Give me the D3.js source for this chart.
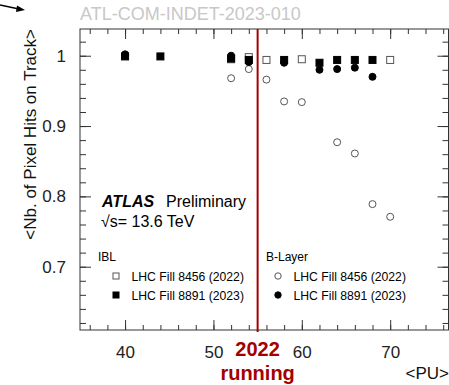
<!DOCTYPE html>
<html lang="en">
    <head>
        <meta charset="utf-8">
        <title>Pixel hits vs PU</title>
        <script type="text/javascript" src="https://cdn.jsdelivr.net/npm/d3@7/dist/d3.min.js"></script>
        <style type="text/css">
            body { margin: 0; background: #fff; }
            text { font-family: "Liberation Sans", Arial, Helvetica, sans-serif; }
        </style>
    </head>
    <body>
        <script type="text/javascript">
        // data
        var iblPu2022   = [52, 54, 56, 60, 70];
        var iblHits2022 = [0.995, 0.998, 0.994, 0.995, 0.994];
        var iblPu2023   = [40, 44, 52, 54, 58, 62, 64, 66, 68];
        var iblHits2023 = [0.999, 0.999, 0.996, 0.994, 0.994, 0.990, 0.994, 0.994, 0.994];
        var blPu2022    = [52, 54, 56, 58, 60, 64, 66, 68, 70];
        var blHits2022  = [0.968, 0.981, 0.966, 0.935, 0.934, 0.877, 0.861, 0.789, 0.771];
        var blPu2023    = [40, 52, 54, 58, 62, 64, 66, 68];
        var blHits2023  = [1.002, 1.000, 0.991, 0.990, 0.980, 0.981, 0.983, 0.970];
        var xTicks = [40, 50, 60, 70];
        var yTicks = [0.7, 0.8, 0.9, 1];
        var puLine = 55;

        var w = 449;
        var h = 385;
        var padL = 80, padR = 448.5, padT = 29, padB = 330;

        var svg = d3.select("body")
                    .append("svg")
                    .attr("width", w)
                    .attr("height", h);

        var x = d3.scaleLinear().domain([34.9, 76.6]).range([padL, padR]);
        var y = d3.scaleLinear().domain([0.61, 1.038]).range([padB, padT]);

        var xMinor = d3.range(36, 77, 2);
        var yMinor = d3.range(62, 104, 2).map(function(d) { return d / 100; });

        function styleAxis(g) {
            g.select(".domain").remove();
            g.selectAll("line").attr("stroke", "#333").attr("stroke-width", 1);
            g.selectAll("text")
                .attr("font-family", "Liberation Sans, Arial, sans-serif")
                .attr("font-size", "17px")
                .attr("fill", "#222");
        }

        // bottom
        svg.append("g").attr("transform", "translate(0," + padB + ")")
            .call(d3.axisBottom(x).tickValues(xMinor).tickSize(-5).tickFormat(""))
            .call(styleAxis);
        svg.append("g").attr("transform", "translate(0," + padB + ")")
            .call(d3.axisBottom(x).tickValues(xTicks).tickSize(-10).tickPadding(16).tickFormat(d3.format("d")))
            .call(styleAxis);
        // top
        svg.append("g").attr("transform", "translate(0," + padT + ")")
            .call(d3.axisTop(x).tickValues(xMinor).tickSize(-5).tickFormat(""))
            .call(styleAxis);
        svg.append("g").attr("transform", "translate(0," + padT + ")")
            .call(d3.axisTop(x).tickValues(xTicks).tickSize(-10).tickFormat(""))
            .call(styleAxis);
        // left
        svg.append("g").attr("transform", "translate(" + padL + ",0)")
            .call(d3.axisLeft(y).tickValues(yMinor).tickSize(-6).tickFormat(""))
            .call(styleAxis);
        svg.append("g").attr("transform", "translate(" + padL + ",0)")
            .call(d3.axisLeft(y).tickValues(yTicks).tickSize(-11).tickPadding(14).tickFormat(function(d) { return d === 1 ? "1" : d3.format(".1f")(d); }))
            .call(styleAxis);
        // right
        svg.append("g").attr("transform", "translate(" + padR + ",0)")
            .call(d3.axisRight(y).tickValues(yMinor).tickSize(-6).tickFormat(""))
            .call(styleAxis);
        svg.append("g").attr("transform", "translate(" + padR + ",0)")
            .call(d3.axisRight(y).tickValues(yTicks).tickSize(-11).tickFormat(""))
            .call(styleAxis);

        svg.append("rect")
            .attr("x", padL).attr("y", padT)
            .attr("width", padR - padL).attr("height", padB - padT)
            .attr("fill", "none").attr("stroke", "#333").attr("stroke-width", 1);

        // markers
        var ms = 7;
        function squares(xs, ys, filled) {
            svg.append("g").selectAll("rect")
                .data(xs)
                .enter()
                .append("rect")
                .attr("x", function(d) { return x(d) - ms / 2; })
                .attr("y", function(d, i) { return y(ys[i]) - ms / 2; })
                .attr("width", ms).attr("height", ms)
                .attr("fill", filled ? "#000" : "#fff")
                .attr("stroke", filled ? "#000" : "#555")
                .attr("stroke-width", 1);
        }
        function circles(xs, ys, filled) {
            svg.append("g").selectAll("circle")
                .data(xs)
                .enter()
                .append("circle")
                .attr("cx", function(d) { return x(d); })
                .attr("cy", function(d, i) { return y(ys[i]); })
                .attr("r", ms / 2)
                .attr("fill", filled ? "#000" : "#fff")
                .attr("stroke", filled ? "#000" : "#555")
                .attr("stroke-width", 1);
        }
        circles(blPu2022, blHits2022, false);
        squares(iblPu2022, iblHits2022, false);
        circles(blPu2023, blHits2023, true);
        squares(iblPu2023, iblHits2023, true);

        // 2022 running line
        svg.append("line")
            .attr("x1", x(puLine)).attr("x2", x(puLine))
            .attr("y1", padT).attr("y2", padB + 2)
            .attr("stroke", "#a50000").attr("stroke-width", 2);
        svg.append("text").text("2022")
            .attr("x", x(puLine)).attr("y", 356)
            .attr("text-anchor", "middle")
            .attr("font-size", "20px").attr("font-weight", "bold")
            .attr("fill", "#a50000");
        svg.append("text").text("running")
            .attr("x", x(puLine)).attr("y", 380)
            .attr("text-anchor", "middle")
            .attr("font-size", "20px").attr("font-weight", "bold")
            .attr("fill", "#a50000");

        // axis titles
        svg.append("text").text("<PU>")
            .attr("x", 449).attr("y", 379)
            .attr("text-anchor", "end")
            .attr("font-size", "17px").attr("fill", "#111");
        svg.append("text").text("<Nb. of Pixel Hits on Track>")
            .attr("transform", "translate(36," + padT + ") rotate(-90)")
            .attr("text-anchor", "end")
            .attr("font-size", "17px").attr("fill", "#111");

        // watermark and stray arrow
        svg.append("text").text("ATL-COM-INDET-2023-010")
            .attr("x", 80).attr("y", 20)
            .attr("font-size", "18px").attr("fill", "#c8c8c8");
        svg.append("line")
            .attr("x1", 0).attr("y1", 5).attr("x2", 19).attr("y2", 9)
            .attr("stroke", "#000").attr("stroke-width", 1.5);
        svg.append("path")
            .attr("d", "M25,10 L17,5.5 L16,12 Z")
            .attr("fill", "#000");

        // ATLAS label
        var lab = svg.append("text").attr("x", 102).attr("y", 207).attr("font-size", "16px");
        lab.append("tspan").text("ATLAS").attr("font-weight", "bold").attr("font-style", "italic");
        lab.append("tspan").text("Preliminary").attr("x", 166);
        svg.append("text").text("\u221As= 13.6 TeV")
            .attr("x", 101).attr("y", 227).attr("font-size", "16px");

        // legend
        var legendRows = [
            { x: 116, y: 276, label: "LHC Fill 8456 (2022)", shape: "square", filled: false },
            { x: 116, y: 295, label: "LHC Fill 8891 (2023)", shape: "square", filled: true },
            { x: 278, y: 276, label: "LHC Fill 8456 (2022)", shape: "circle", filled: false },
            { x: 278, y: 295, label: "LHC Fill 8891 (2023)", shape: "circle", filled: true }
        ];
        svg.append("text").text("IBL").attr("x", 98).attr("y", 261).attr("font-size", "12px");
        svg.append("text").text("B-Layer").attr("x", 266).attr("y", 261).attr("font-size", "12px");
        legendRows.forEach(function(r) {
            if (r.shape === "square") {
                svg.append("rect")
                    .attr("x", r.x - 3).attr("y", r.y - 3).attr("width", 6).attr("height", 6)
                    .attr("fill", r.filled ? "#000" : "#fff").attr("stroke", r.filled ? "#000" : "#555");
            } else {
                svg.append("circle")
                    .attr("cx", r.x).attr("cy", r.y).attr("r", 3.2)
                    .attr("fill", r.filled ? "#000" : "#fff").attr("stroke", r.filled ? "#000" : "#555");
            }
            svg.append("text").text(r.label)
                .attr("x", r.x + 15.5).attr("y", r.y + 4.5)
                .attr("font-size", "12.2px");
        });
        </script>
    </body>
</html>
